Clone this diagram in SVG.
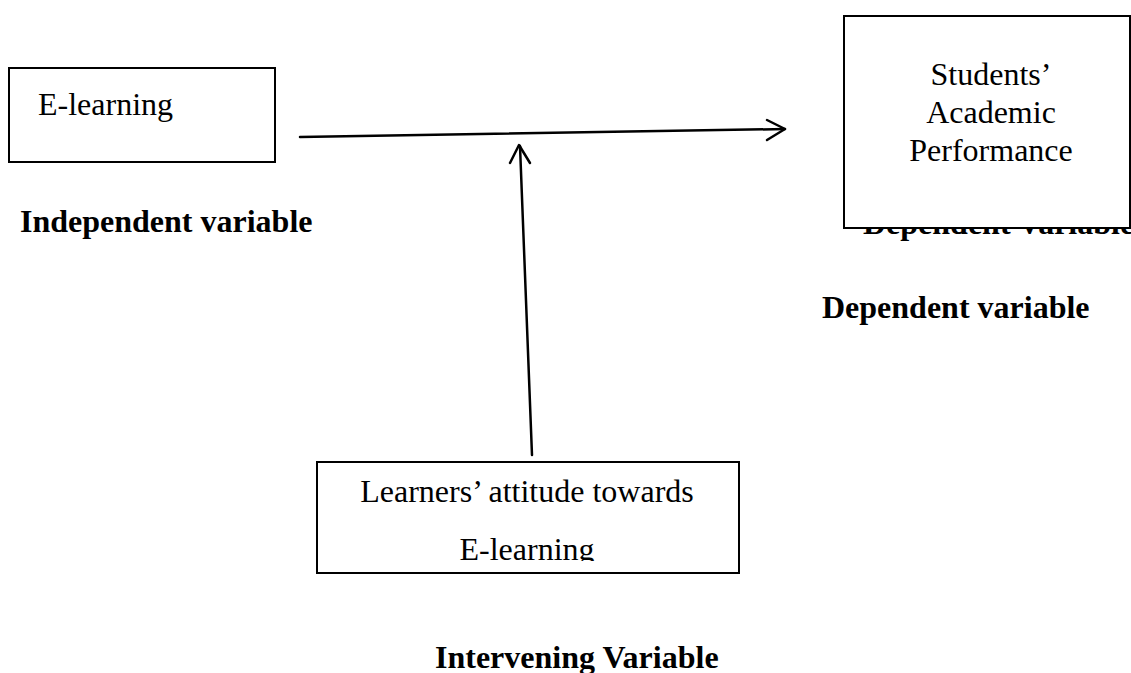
<svg xmlns="http://www.w3.org/2000/svg" width="1131" height="673" viewBox="0 0 1131 673">
<style>
.box{fill:#fff;stroke:#000;stroke-width:2}
.t{font-family:"Liberation Serif","Times New Roman",serif;font-size:32px;fill:#000}
.b{font-family:"Liberation Serif","Times New Roman",serif;font-size:32px;font-weight:bold;fill:#000}
.ln{fill:none;stroke:#000;stroke-width:2.5;stroke-linecap:round;stroke-linejoin:round}
</style>
<defs>
<clipPath id="clipL"><rect x="310" y="450" width="440" height="111"/></clipPath>
</defs>
<rect width="1131" height="673" fill="#fff"/>
<g id="independent">
<rect class="box" x="9" y="68" width="266" height="94"/>
<text class="t" x="38" y="115">E-learning</text>
<text class="b" x="20" y="232">Independent variable</text>
</g>
<g id="dependent">
<text class="b" x="863" y="234">Dependent Variable</text>
<rect class="box" x="844" y="16" width="286" height="212"/>
<text class="t" x="991" y="85" text-anchor="middle">Students’</text>
<text class="t" x="991" y="123" text-anchor="middle">Academic</text>
<text class="t" x="991" y="161" text-anchor="middle">Performance</text>
<text class="b" x="822" y="318">Dependent variable</text>
</g>
<g id="intervening">
<rect class="box" x="317" y="462" width="422" height="111"/>
<g clip-path="url(#clipL)">
<text class="t" x="527" y="502" text-anchor="middle">Learners’ attitude towards</text>
<text class="t" x="527" y="560" text-anchor="middle">E-learning</text>
</g>
<text class="b" x="435" y="668">Intervening Variable</text>
</g>
<g id="connectors">
<path class="ln" d="M300,137 L785,129"/>
<path class="ln" d="M767,120 L785,129 L767,140"/>
<path class="ln" d="M532,455 L520,146"/>
<path class="ln" d="M510,163 L519,145 L530,163"/>
</g>
</svg>
